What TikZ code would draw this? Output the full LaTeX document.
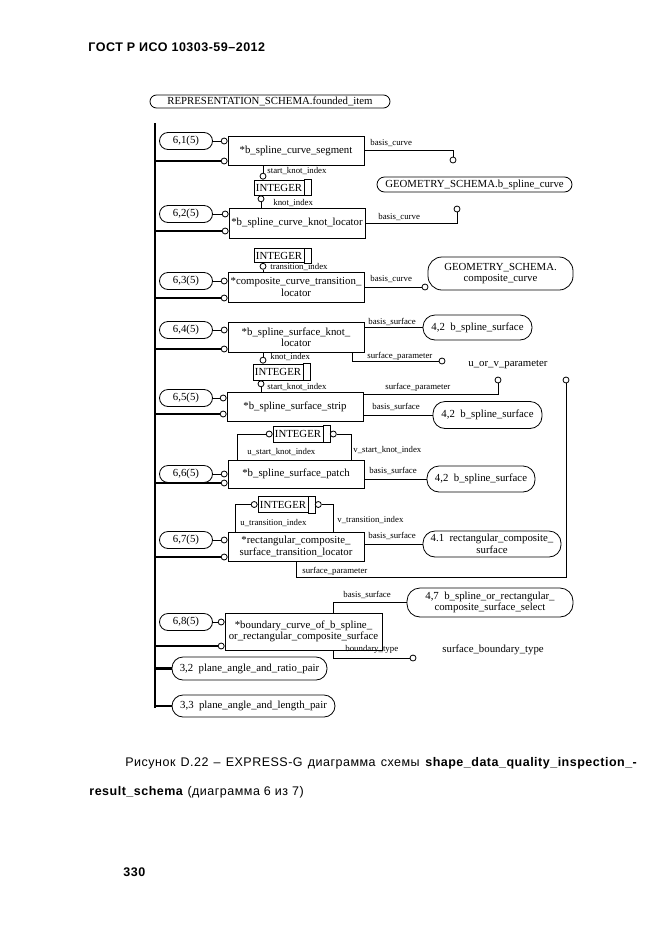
\documentclass[tikz,border=0pt]{standalone}
\usepackage{fontspec}
\setmainfont{Liberation Serif}
\newfontfamily\gostfont[LetterSpace=4]{Liberation Sans}
\begin{document}
\begin{tikzpicture}[x=1pt,y=-1pt,line width=0.8pt,
    ent/.style={draw,minimum width=136pt,minimum height=29pt,inner sep=1pt,align=center,font=\fontsize{10.8}{11.5}\selectfont},
    ref/.style={draw,rounded corners=#1,inner sep=1pt,align=center,font=\fontsize{10.8}{11.5}\selectfont},
    ref/.default=8pt,
    pg/.style={ref=8.5pt,minimum width=53pt,minimum height=17pt},
    typ/.style={draw,minimum width=50pt,minimum height=15pt,inner sep=1pt,font=\fontsize{10.8}{11.5}\selectfont},
    ring/.style={circle,draw,fill=white,inner sep=0pt,minimum size=6pt},
    lbl/.style={anchor=west,inner sep=0pt,font=\fontsize{8.8}{9}\selectfont},
    tname/.style={anchor=west,inner sep=0pt,font=\fontsize{10.8}{11.5}\selectfont},
    bus/.style={line width=2.8pt},
    gost/.style={anchor=west,inner sep=0pt,font=\gostfont\fontsize{12.5}{14}\selectfont}]
\useasboundingbox(0,0)rectangle(661,935);
\node[gost](title)at(88,47){\bfseries ГОСТ Р ИСО 10303-59–2012};
\node[ref=6.5pt,minimum width=240pt,minimum height=13pt](founded)at(270,101.5){REPRESENTATION\_SCHEMA.founded\_item};
\node[ent](e1)at(296,150.5){*b\_spline\_curve\_segment};
\node[ent,minimum height=30pt](e2)at(297,223){*b\_spline\_curve\_knot\_locator};
\node[ent,minimum height=30pt](e3)at(296,287){*composite\_curve\_transition\_\\locator};
\node[ent,minimum height=30pt](e4)at(296,337){*b\_spline\_surface\_knot\_\\locator};
\node[ent](e5)at(295,406.5){*b\_spline\_surface\_strip};
\node[ent,minimum height=28pt](e6)at(296,474){*b\_spline\_surface\_patch};
\node[ent](e7)at(296,546.5){*rectangular\_composite\_\\surface\_transition\_locator};
\node[ent,minimum width=157pt,minimum height=37pt](e8)at(303.5,631.5){*boundary\_curve\_of\_b\_spline\_\\or\_rectangular\_composite\_surface};
\node[typ](i1)at(279,187.5){INTEGER};
\node[typ,minimum height=14pt](i2)at(279,255.5){INTEGER};
\node[typ,minimum height=16pt](i3)at(278,372){INTEGER};
\node[typ,minimum height=16pt](i4)at(298,434){INTEGER};
\node[typ,minimum height=16pt](i5)at(283,504.5){INTEGER};
\foreach \i in {i1,i2,i3,i4,i5}\draw(\i.north east)rectangle([xshift=6.5pt]\i.south east);
\node[ref=7.5pt,minimum width=195pt,minimum height=15pt](g1)at(474.5,184.5){GEOMETRY\_SCHEMA.b\_spline\_curve};
\node[ref=14pt,minimum width=145pt,minimum height=33pt](g2)at(500.5,273.5){GEOMETRY\_SCHEMA.\\composite\_curve};
\node[ref=12pt,minimum width=109pt,minimum height=25pt](r1)at(477.5,327.5){4,2~~b\_spline\_surface};
\node[ref=12pt,minimum width=109pt,minimum height=27pt](r2)at(487.5,415){4,2~~b\_spline\_surface};
\node[ref=12pt,minimum width=108pt,minimum height=26pt](r3)at(481,479){4,2~~b\_spline\_surface};
\node[ref=12pt,minimum width=138pt,minimum height=26pt](r4)at(492,544){4.1~~rectangular\_composite\_\\surface};
\node[ref=13pt,minimum width=166pt,minimum height=29pt](r5)at(490,602.5){4,7~~b\_spline\_or\_rectangular\_\\composite\_surface\_select};
\node[ref=11pt,minimum width=155pt,minimum height=23pt](r6)at(249.5,668.5){3,2~~plane\_angle\_and\_ratio\_pair};
\node[ref=11pt,minimum width=163pt,minimum height=22pt](r7)at(253.5,706){3,3~~plane\_angle\_and\_length\_pair};
\node[tname](t1)at(468,365){u\_or\_v\_parameter};
\node[tname](t2)at(442,650){surface\_boundary\_type};
\coordinate(bt)at(155,123);
\coordinate(bb)at(155,708.4);
\draw[bus](bt)--(bb);
\foreach \n/\y/\z in {1/141/161,2/214/231,3/281/298,4/330/349,5/398/414,6/474/483,7/540/557,8/622/646}{
  \node[pg](p\n)at(186,\y){6,\n(5)};
  \node[ring,anchor=east](a\n)at(e\n.west|-0,\y){};
  \node[ring,anchor=east](b\n)at(e\n.west|-0,\z){};
  \draw(p\n)--(a\n);
  \draw[bus](bt|-b\n)--(b\n);
}
\foreach \r in {r6,r7}\draw[bus](bt|-\r)--(\r);
\node[ring,anchor=south](s1)at(i1.north-|263,0){};
\node[ring,anchor=north](s2)at(i1.south-|261,0){};
\node[ring,anchor=north](s3)at(i2.south-|263,0){};
\node[ring,anchor=south](s4)at(i3.north-|263,0){};
\node[ring,anchor=north](s5)at(i3.south-|261,0){};
\node[ring,anchor=east](s6)at(i4.west){};
\node[ring,anchor=west](s7)at([xshift=6.5pt]i4.east){};
\node[ring,anchor=east](s8)at(i5.west){};
\node[ring,anchor=west](s9)at([xshift=6.5pt]i5.east){};
\node[ring](q1)at(453,160){};
\node[ring](q2)at(457,209){};
\node[ring](q3)at(425,287){};
\node[ring](q4)at(442,361){};
\node[ring](q5)at(498,380){};
\node[ring](q7)at(566,380){};
\node[ring](q8)at(413,658){};
\coordinate(k7)at(566,577);
\draw(e1.south-|s1)--(s1);
\draw(e2.north-|s2)--(s2);
\draw(e3.north-|s3)--(s3);
\draw(e4.south-|s4)--(s4);
\draw(e5.north-|s5)--(s5);
\draw(s6)-|([xshift=10pt]e6.north west);
\draw(s7)-|([xshift=-13pt]e6.north east);
\draw(s8)-|([xshift=8pt]e7.north west);
\draw(s9)-|([xshift=-31pt]e7.north east);
\draw(e1)-|(q1);
\draw(e2)-|(q2);
\draw(e3)--(q3);
\draw(e4.east|-r1)--(r1);
\draw([xshift=-12pt]e4.south east)|-(q4);
\draw(e5.east|-r2)--(r2);
\draw([yshift=-3pt]e5.north east)-|(q5);
\draw(e6.east|-r3)--(r3);
\draw(e7.east|-r4)--(r4);
\draw(e7.south)|-(k7)--(q7);
\draw([xshift=30pt]e8.north)|-(r5);
\draw([xshift=30pt]e8.south)|-(q8);
\node[lbl](l1)at(370,143){basis\_curve};
\node[lbl](l2)at(267,171){start\_knot\_index};
\node[lbl](l3)at(273,203){knot\_index};
\node[lbl](l4)at(378,217){basis\_curve};
\node[lbl](l5)at(270,267.5){transition\_index};
\node[lbl](l6)at(370,279){basis\_curve};
\node[lbl](l7)at(368,322){basis\_surface};
\node[lbl](l8)at(367,356){surface\_parameter};
\node[lbl](l9)at(270,357){knot\_index};
\node[lbl](l10)at(267,387){start\_knot\_index};
\node[lbl](l11)at(385,387){surface\_parameter};
\node[lbl](l12)at(372,407){basis\_surface};
\node[lbl](l13)at(247,452){u\_start\_knot\_index};
\node[lbl](l14)at(353,450){v\_start\_knot\_index};
\node[lbl](l15)at(369,471){basis\_surface};
\node[lbl](l16)at(240,523){u\_transition\_index};
\node[lbl](l17)at(337,520){v\_transition\_index};
\node[lbl](l18)at(368,536){basis\_surface};
\node[lbl](l19)at(302,571){surface\_parameter};
\node[lbl](l20)at(343,595){basis\_surface};
\node[lbl](l21)at(345,649){boundary\_type};
\node[gost](cap1)at(125,763){\makebox[512pt][s]{Рисунок D.22 – EXPRESS-G диаграмма схемы \textbf{shape\_data\_quality\_inspection\_-}}};
\node[gost](cap2)at(89,792){\textbf{result\_schema} (диаграмма 6 из 7)};
\node[gost](pgno)at(123,872){\textbf{330}};
\end{tikzpicture}
\end{document}
